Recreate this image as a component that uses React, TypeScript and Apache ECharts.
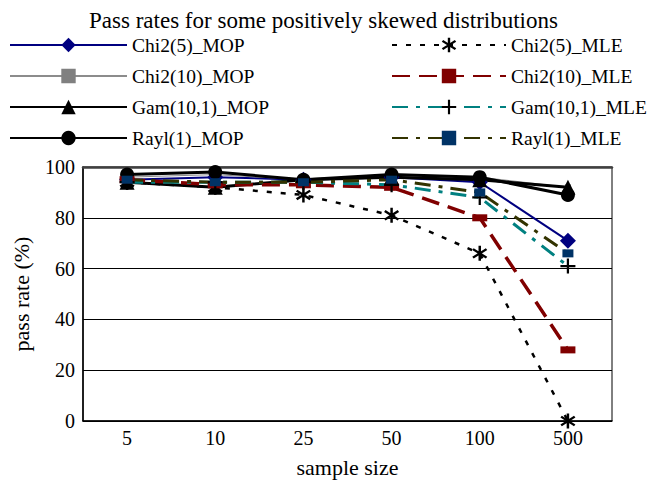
import React, { useEffect, useRef } from "react";
import * as echarts from "echarts";

const categories = ["5", "10", "25", "50", "100", "500"];
const chi2_5_MOP = [95, 96, 95, 96, 94, 71];
const chi2_10_MOP = [96, 97, 95, 96, 96, 92];
const gam_MOP = [94, 92, 95, 96, 95, 92];
const rayl_MOP = [97, 98, 95, 97, 96, 89];
const chi2_5_MLE = [94, 92, 89, 81, 66, 0];
const chi2_10_MLE = [95, 93, 93, 92, 80, 28];
const gam_MLE = [94, 94, 94, 93, 88, 61];
const rayl_MLE = [95, 94, 94, 95, 90, 66];
const yTicks = [0, 20, 40, 60, 80, 100];

const FONT = "Liberation Serif, Times New Roman, serif";
const ASTERISK =
  "path://M8.5,0L11.5,0L11.5,20L8.5,20ZM17.33,16.97L0.95,5.49L2.67,3.03L19.05,14.51ZM2.67,16.97L0.95,14.51L17.33,3.03L19.05,5.49Z";
const PLUS =
  "path://M8.5,0L11.5,0L11.5,8.5L20,8.5L20,11.5L11.5,11.5L11.5,20L8.5,20L8.5,11.5L0,11.5L0,8.5L8.5,8.5Z";

export default function App() {
  const ref = useRef<HTMLDivElement>(null);
  useEffect(() => {
    document.body.style.margin = "0";
    if (!ref.current) return;
    const chart = echarts.init(ref.current, null, { renderer: "svg" });
    const mk = (
      name: string,
      data: number[],
      color: string,
      width: number,
      type: any,
      symbol: string,
      symbolSize: any,
      symColor: string
    ) => ({
      name,
      type: "line",
      data,
      symbol,
      symbolSize,
      showAllSymbol: true,
      lineStyle: { color, width, type },
      itemStyle: { color: symColor, borderWidth: 0 },
    });
    const ts = (size: number) => ({
      fontFamily: FONT,
      fontSize: size,
      fontWeight: "normal",
      color: "#000",
    });
    chart.setOption({
      animation: false,
      textStyle: { fontFamily: FONT },
      title: {
        text: "Pass rates for some positively skewed distributions",
        left: "center",
        top: 4,
        textStyle: ts(23),
      },
      legend: [
        {
          orient: "vertical",
          left: 4,
          top: 30,
          itemWidth: 117,
          itemHeight: 18,
          itemGap: 11,
          textStyle: ts(19.5),
          data: ["Chi2(5)_MOP", "Chi2(10)_MOP", "Gam(10,1)_MOP", "Rayl(1)_MOP"],
        },
        {
          orient: "vertical",
          left: 386,
          top: 30,
          itemWidth: 114,
          itemHeight: 18,
          itemGap: 11,
          textStyle: ts(19.5),
          data: ["Chi2(5)_MLE", "Chi2(10)_MLE", "Gam(10,1)_MLE", "Rayl(1)_MLE"],
        },
      ],
      grid: {
        left: 83,
        right: 35,
        top: 167,
        bottom: 62,
        show: true,
        borderColor: "#000",
        borderWidth: 1,
      },
      xAxis: [
        {
          type: "category",
          data: categories,
          boundaryGap: true,
          name: "sample size",
          nameLocation: "middle",
          nameGap: 35,
          nameTextStyle: ts(22),
          axisLine: { lineStyle: { color: "#000", width: 1.5 } },
          axisTick: { inside: true, length: 6, lineStyle: { color: "#555" } },
          axisLabel: { ...ts(20), margin: 7 },
        },
        {
          type: "category",
          data: categories,
          position: "top",
          axisLine: { lineStyle: { color: "#404040", width: 2.5 } },
          axisTick: { show: false },
          axisLabel: { show: false },
        },
      ],
      yAxis: {
        type: "value",
        min: 0,
        max: 100,
        interval: 20,
        name: "pass rate (%)",
        nameLocation: "middle",
        nameGap: 51,
        nameTextStyle: ts(22),
        axisLine: { show: true, lineStyle: { color: "#000", width: 1.5 } },
        axisTick: { show: false },
        axisLabel: {
          ...ts(20),
          margin: 8,
          formatter: (v: number) => (yTicks.includes(v) ? String(v) : ""),
        },
        splitLine: { lineStyle: { color: "#000", width: 1 } },
      },
      series: [
        mk("Chi2(5)_MOP", chi2_5_MOP, "#000080", 2, "solid", "diamond", 16, "#000080"),
        mk("Chi2(10)_MOP", chi2_10_MOP, "#8c8c8c", 1, "solid", "rect", 6, "#808080"),
        mk("Gam(10,1)_MOP", gam_MOP, "#000", 3, "solid", "triangle", 15, "#000"),
        mk("Rayl(1)_MOP", rayl_MOP, "#000", 3, "solid", "circle", 14, "#000"),
        mk("Chi2(5)_MLE", chi2_5_MLE, "#000", 2.5, [5, 9], ASTERISK, 15, "#000"),
        mk("Chi2(10)_MLE", chi2_10_MLE, "#800000", 3.5, [18, 9], "rect", [15, 7], "#800000"),
        mk("Gam(10,1)_MLE", gam_MLE, "#008080", 3, [16, 8, 4, 8], PLUS, 15, "#000"),
        mk("Rayl(1)_MLE", rayl_MLE, "#333300", 3, [16, 8, 4, 8], "rect", [11, 8], "#003366"),
      ],
    });
    return () => chart.dispose();
  }, []);
  return <div ref={ref} style={{ width: 647, height: 483 }} />;
}
